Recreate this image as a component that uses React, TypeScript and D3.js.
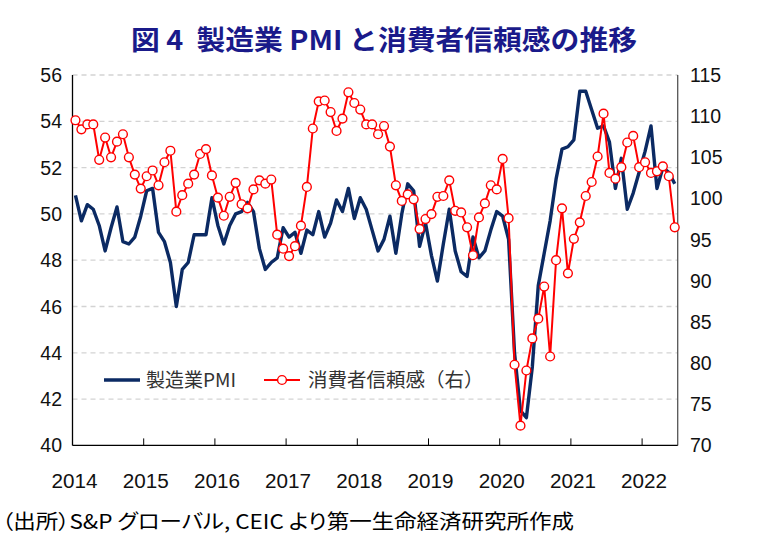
import * as d3 from "d3";

const width = 769;
const height = 554;

// months Jan 2014 .. Jun 2022
const months = d3.timeMonth.range(new Date(2014, 0, 1), new Date(2022, 6, 1));
const years = ["2014", "2015", "2016", "2017", "2018", "2019", "2020", "2021", "2022"];

// manufacturing PMI (left axis)
const pmi = [
  50.8, 49.7, 50.4, 50.2, 49.5, 48.4, 49.4, 50.3, 48.8, 48.7, 49.0, 49.9,
  51.0, 51.1, 49.2, 48.8, 47.9, 46.0, 47.6, 47.9, 49.1, 49.1, 49.1, 50.7,
  49.5, 48.7, 49.5, 50.0, 50.1, 50.5, 50.1, 48.5, 47.6, 47.9, 48.1, 49.4,
  49.0, 49.2, 48.3, 49.3, 49.1, 50.1, 49.0, 49.6, 50.6, 50.1, 51.1, 49.8,
  50.7, 50.2, 49.3, 48.4, 48.9, 49.9, 48.3, 50.0, 51.3, 51.0, 48.6, 49.6,
  48.2, 47.1, 48.7, 50.2, 48.4, 47.5, 47.3, 49.0, 48.1, 48.4, 49.3, 50.1,
  49.9, 48.9, 44.0, 41.5, 41.2, 43.4, 46.9, 48.3, 49.7, 51.5, 52.8, 52.9,
  53.2, 55.3, 55.3, 54.5, 53.7, 53.8, 53.1, 51.1, 52.4, 50.2, 50.9, 51.8,
  52.7, 53.8, 51.1, 52.0, 51.8, 51.3,
];

// consumer confidence (right axis)
const confidence = [
  109.5, 108.4, 109.0, 109.0, 104.7, 107.4, 105.0, 106.9, 107.8, 105.0, 102.9, 101.2,
  102.7, 103.4, 101.6, 104.4, 105.8, 98.4, 100.4, 101.8, 102.9, 105.4, 106.0, 102.8,
  100.1, 97.9, 100.2, 101.9, 99.3, 98.8, 101.1, 102.2, 101.8, 102.3, 95.6, 93.9,
  93.0, 94.2, 96.7, 101.4, 108.5, 111.8, 111.9, 110.5, 108.2, 109.7, 112.9, 111.6,
  110.8, 109.0, 109.0, 107.8, 108.8, 106.3, 101.6, 99.7, 100.5, 99.9, 96.3, 97.5,
  98.1, 100.2, 100.3, 102.2, 98.5, 98.3, 96.5, 93.1, 97.7, 99.4, 101.6, 101.1,
  104.8, 97.6, 79.8, 72.4, 79.1, 83.0, 85.4, 89.3, 80.8, 92.5, 98.8, 90.9,
  95.1, 97.1, 100.3, 102.0, 105.1, 110.3, 103.1, 102.4, 103.8, 106.8, 107.6, 103.8,
  104.4, 103.1, 103.3, 103.9, 102.7, 96.5,
];

const leftTicks = [40, 42, 44, 46, 48, 50, 52, 54, 56];
const rightTicks = [70, 75, 80, 85, 90, 95, 100, 105, 110, 115];

const margin = { top: 75, right: 91.3, bottom: 108.6, left: 72.5 };

const numFont = "'Liberation Sans', Arial, sans-serif";
const jpFont = "'Noto Sans CJK JP', sans-serif";

export default function App() {
  const x = d3
    .scaleBand<number>()
    .domain(d3.range(months.length))
    .range([margin.left, width - margin.right]);
  const cx = (i: number) => (x(i) ?? 0) + x.bandwidth() / 2;

  const yL = d3.scaleLinear().domain([40, 56]).range([height - margin.bottom, margin.top]);
  const yR = d3.scaleLinear().domain([70, 115]).range([height - margin.bottom, margin.top]);

  const pmiLine = d3
    .line<number>()
    .x((_, i) => cx(i))
    .y((d) => yL(d));
  const ccLine = d3
    .line<number>()
    .x((_, i) => cx(i))
    .y((d) => yR(d));

  const x0 = margin.left;
  const x1 = width - margin.right;
  const yBottom = height - margin.bottom;

  // year boundaries for the inner ticks
  const yearStarts = years.map((_, k) => x(k * 12) ?? 0);

  return (
    <svg
      width={width}
      height={height}
      style={{ position: "absolute", left: 0, top: 0, background: "white" }}
    >
      <text
        x={384}
        y={50}
        textAnchor="middle"
        fontFamily={jpFont}
        fontWeight="bold"
        fontSize={27}
        fill="#1a1a8a"
        style={{ whiteSpace: "pre" }}
        textLength={506}
        lengthAdjust="spacingAndGlyphs"
      >
        {"図 4  製造業 PMI と消費者信頼感の推移"}
      </text>

      {/* grid */}
      {leftTicks.slice(1).map((t) => (
        <line
          key={t}
          x1={x0}
          x2={x1}
          y1={yL(t)}
          y2={yL(t)}
          stroke="#d3d3d3"
          strokeWidth={1.3}
          strokeDasharray="5 4"
        />
      ))}

      {/* axes */}
      <line x1={x0} x2={x0} y1={margin.top} y2={yBottom} stroke="#000" strokeWidth={1.3} />
      <line x1={x1} x2={x1} y1={margin.top} y2={yBottom} stroke="#555" strokeWidth={1.3} />
      <line x1={x0} x2={x1} y1={yBottom} y2={yBottom} stroke="#000" strokeWidth={1.3} />
      {yearStarts.slice(1).map((xs, k) => (
        <line key={k} x1={xs} x2={xs} y1={yBottom} y2={yBottom - 7} stroke="#000" strokeWidth={1} />
      ))}

      {leftTicks.map((t) => (
        <text
          key={t}
          x={62}
          y={yL(t)}
          dy="0.36em"
          textAnchor="end"
          fontFamily={numFont}
          fontSize={19.5}
          fill="#111"
        >
          {t}
        </text>
      ))}
      {rightTicks.map((t) => (
        <text
          key={t}
          x={690}
          y={yR(t)}
          dy="0.36em"
          fontFamily={numFont}
          fontSize={19.5}
          fill="#111"
        >
          {t}
        </text>
      ))}
      {years.map((yr, k) => (
        <text
          key={yr}
          x={yearStarts[k] + 2}
          y={488}
          textAnchor="middle"
          fontFamily={numFont}
          fontSize={19.5}
          fill="#111"
          textLength={46}
          lengthAdjust="spacingAndGlyphs"
        >
          {yr}
        </text>
      ))}

      {/* series */}
      <path d={pmiLine(pmi) ?? ""} fill="none" stroke="#0b2a63" strokeWidth={3.4} strokeLinejoin="round" />
      <path d={ccLine(confidence) ?? ""} fill="none" stroke="#ff0000" strokeWidth={2} strokeLinejoin="round" />
      {confidence.map((v, i) => (
        <circle key={i} cx={cx(i)} cy={yR(v)} r={4.4} fill="white" stroke="#ff0000" strokeWidth={1.4} />
      ))}

      {/* legend */}
      <line x1={104} x2={140} y1={380} y2={380} stroke="#0b2a63" strokeWidth={3.4} />
      <text x={146} y={387} fontFamily={jpFont} fontSize={19} fill="#333">
        製造業PMI
      </text>
      <line x1={264} x2={300} y1={380} y2={380} stroke="#ff0000" strokeWidth={2} />
      <circle cx={282} cy={380} r={4.4} fill="white" stroke="#ff0000" strokeWidth={1.4} />
      <text x={308} y={387} fontFamily={jpFont} fontSize={19.5} fill="#333">
        消費者信頼感（右）
      </text>

      <text
        x={2}
        y={529}
        fontFamily={jpFont}
        fontSize={20}
        fill="#000"
        style={{ fontFeatureSettings: '"palt"' }}
        textLength={572}
        lengthAdjust="spacingAndGlyphs"
      >
        （出所）S&amp;P グローバル, CEIC より第一生命経済研究所作成
      </text>
    </svg>
  );
}
